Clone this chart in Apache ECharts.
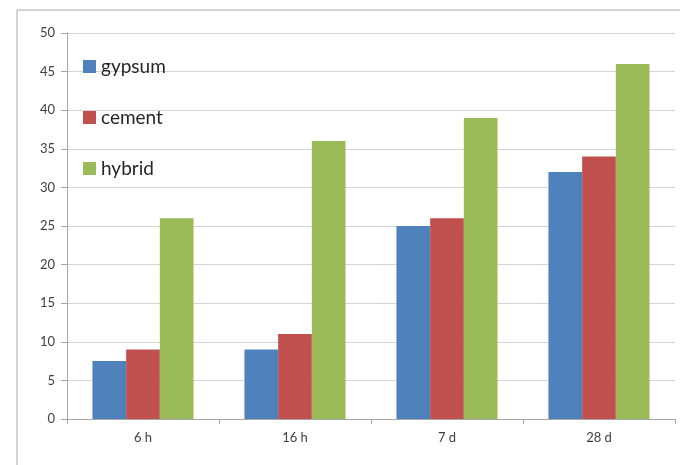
<html lang="en">
<head>
    <meta charset="UTF-8">
    <title>Setting time strength</title>
    <script src="https://cdn.jsdelivr.net/npm/echarts@6/dist/echarts.min.js"></script>
    <style>
        body { margin: 0; background: #fff; }
    </style>
</head>
<body>
    <div id="main" style="width: 680px;height: 465px"></div>
    <script type="text/javascript">
        var categories = ['6 h', '16 h', '7 d', '28 d'];
        var gypsum = [7.5, 9, 25, 32];
        var cement = [9, 11, 26, 34];
        var hybrid = [26, 36, 39, 46];

        var myChart = echarts.init(document.getElementById('main'));
        var font = 'Lato, "Open Sans", sans-serif';

        var option = {
            backgroundColor: '#fff',
            animation: false,
            color: ['#4F81BD', '#C0504D', '#9BBB59'],
            graphic: [{
                type: 'rect',
                shape: { x: 17, y: 10, width: 700, height: 500 },
                style: { fill: 'none', stroke: '#a6a6a6', lineWidth: 1 },
                silent: true
            }],
            legend: {
                orient: 'vertical',
                left: 78,
                top: 52,
                itemWidth: 13,
                itemHeight: 13,
                itemGap: 32,
                icon: 'rect',
                textStyle: { fontFamily: font, fontSize: 19, color: '#262626' }
            },
            grid: { left: 67, right: 5, top: 33, bottom: 46 },
            xAxis: {
                type: 'category',
                data: categories,
                axisLine: { lineStyle: { color: '#a6a6a6' } },
                axisTick: { show: true, length: 5, lineStyle: { color: '#a6a6a6' } },
                axisLabel: { fontFamily: font, fontSize: 13, color: '#404040', margin: 12 }
            },
            yAxis: {
                type: 'value',
                min: 0,
                max: 50,
                interval: 5,
                axisLine: { show: true, lineStyle: { color: '#a6a6a6' } },
                axisTick: { show: true, length: 6, lineStyle: { color: '#a6a6a6' } },
                axisLabel: { fontFamily: font, fontSize: 13, color: '#404040', margin: 12 },
                splitLine: { lineStyle: { color: '#d4d4d4' } }
            },
            series: [
                { name: 'gypsum', type: 'bar', data: gypsum, barGap: '0%', barCategoryGap: '33.5%' },
                { name: 'cement', type: 'bar', data: cement, barGap: '0%', barCategoryGap: '33.5%' },
                { name: 'hybrid', type: 'bar', data: hybrid, barGap: '0%', barCategoryGap: '33.5%' }
            ]
        };
        myChart.setOption(option);
    </script>
</body>
</html>
